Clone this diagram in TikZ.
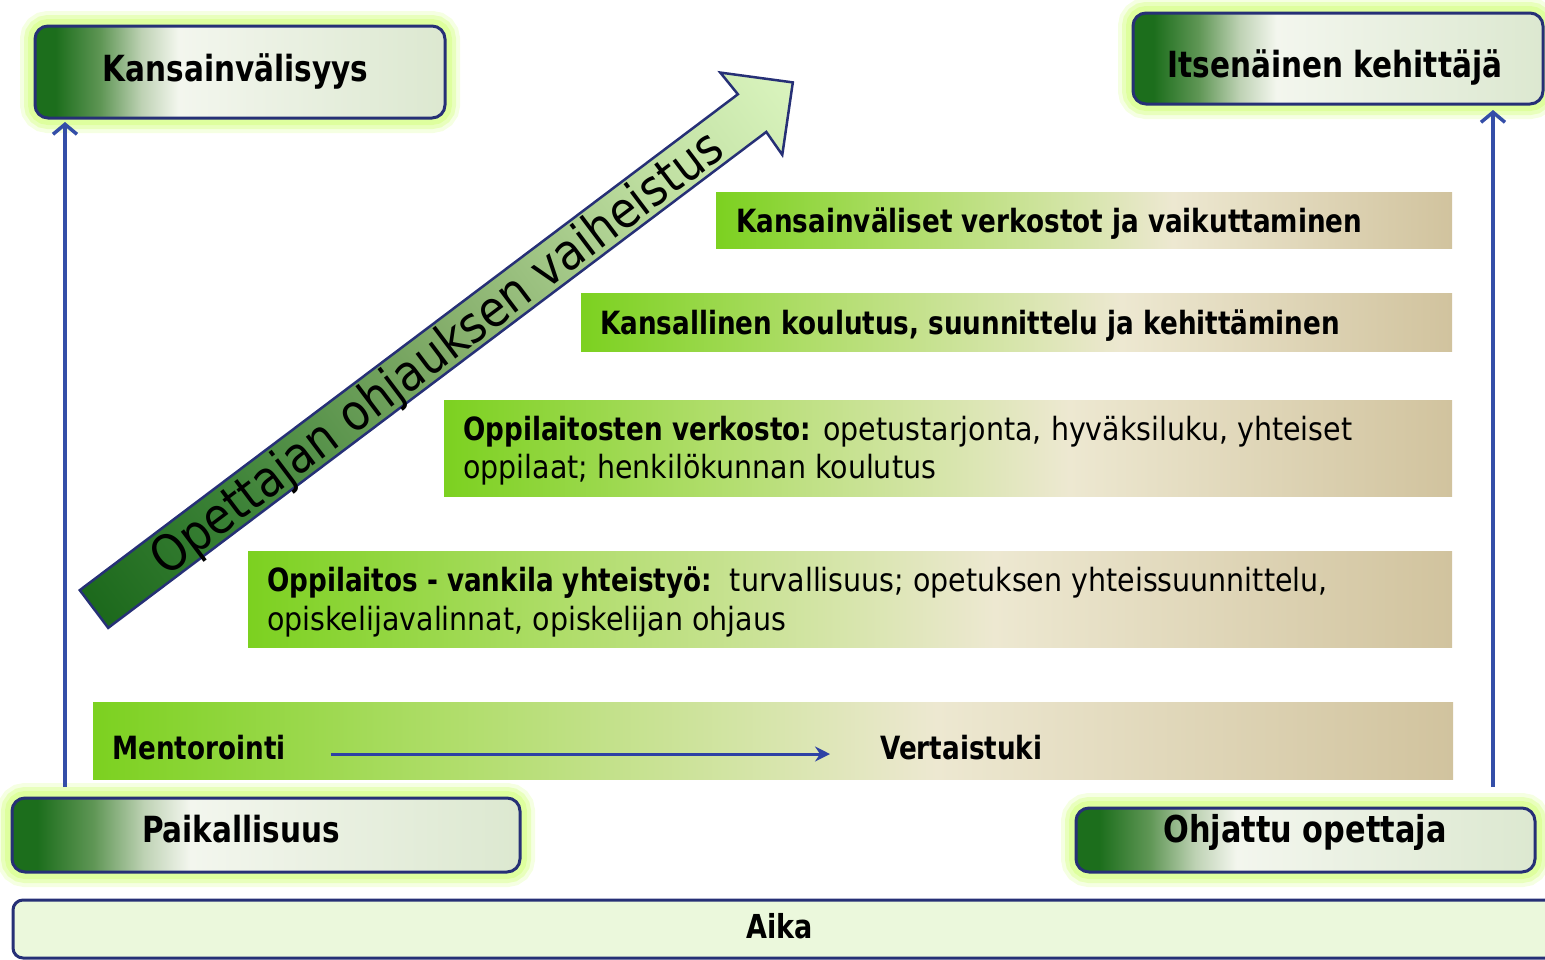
\documentclass[tikz,border=0pt]{standalone}
\usepackage{fontspec}
\setmainfont{DejaVu Sans}[UprightFeatures={FakeStretch=0.89},BoldFeatures={FakeStretch=0.82}]
\usetikzlibrary{arrows.meta,calc}
\definecolor{navy}{RGB}{38,48,118}
\definecolor{arrowblue}{RGB}{52,78,168}
\definecolor{arrowblueb}{RGB}{45,65,165}
\definecolor{glow}{RGB}{222,255,158}
\definecolor{aikafill}{RGB}{235,248,220}
\definecolor{bdk}{RGB}{28,110,28}
\definecolor{bsa}{RGB}{95,150,85}
\definecolor{bsb}{RGB}{190,210,180}
\definecolor{bwh}{RGB}{243,246,238}
\definecolor{bend}{RGB}{220,232,208}
\definecolor{ga}{RGB}{124,209,32}
\definecolor{gb}{RGB}{175,221,105}
\definecolor{gc}{RGB}{215,229,172}
\definecolor{gd}{RGB}{237,232,209}
\definecolor{ge}{RGB}{209,195,158}
\definecolor{aa}{RGB}{28,105,28}
\definecolor{ab}{RGB}{60,130,55}
\definecolor{ac}{RGB}{130,172,105}
\definecolor{ad}{RGB}{190,222,160}
\definecolor{ae}{RGB}{218,244,190}
\pgfdeclarehorizontalshading{boxshade}{100bp}{color(0bp)=(bdk); color(27.5bp)=(bdk); color(33bp)=(bsa); color(38bp)=(bsb); color(42.5bp)=(bwh); color(75bp)=(bend); color(100bp)=(bend)}
\pgfdeclarehorizontalshading{barshade}{100bp}{color(0bp)=(ga); color(25bp)=(ga); color(38bp)=(gb); color(50bp)=(gc); color(56bp)=(gd); color(75bp)=(ge); color(100bp)=(ge)}
\pgfdeclarehorizontalshading{arrowshade}{100bp}{color(0bp)=(aa); color(25bp)=(aa); color(35bp)=(ab); color(50bp)=(ac); color(65bp)=(ad); color(75bp)=(ae); color(100bp)=(ae)}
\tikzset{
  titlebox/.style={draw=navy, line width=3pt, rounded corners=13pt, shade, shading=boxshade,
    inner sep=0pt, outer sep=0pt, anchor=north west,
    preaction={draw=glow, line width=30pt, opacity=.3},
    preaction={draw=glow, line width=22pt, opacity=.55},
    preaction={draw=glow, line width=14pt}},
  aikabox/.style={draw=navy, line width=3pt, rounded corners=10pt, fill=aikafill,
    inner sep=0pt, outer sep=0pt, anchor=north west},
  bar/.style={shade, shading=barshade, draw=none, inner sep=0pt, outer sep=0pt, anchor=north west},
  bartxt/.style={font=\fontsize{32}{38}\selectfont, inner sep=0pt, anchor=base west},
  titletxt/.style={font=\fontsize{36}{40}\selectfont\bfseries, inner sep=0pt, anchor=base},
  diagtxt/.style={font=\fontsize{50}{56}\selectfont, inner sep=0pt, anchor=base},
  bigarrow/.style={draw=navy, line width=2.5pt, line join=miter, shade, shading=arrowshade},
  varrow/.style={draw=arrowblue, line width=3.5pt, -{Straight Barb[length=10pt,width=24pt]}},
  marrow/.style={draw=arrowblueb, line width=3pt, -{Stealth[length=15pt,width=15pt,inset=5pt]}}
}
\begin{document}
\begin{tikzpicture}[x=1pt,y=1pt]
\useasboundingbox (0,0) rectangle (1545,-959);
% bars
\node[bar, minimum width=736pt, minimum height=56pt] (b1) at (716,-192) {};
\node[bar, minimum width=871pt, minimum height=58pt] (b2) at (581,-293) {};
\node[bar, minimum width=1008pt, minimum height=96pt] (b3) at (444,-400) {};
\node[bar, minimum width=1204pt, minimum height=96pt] (b4) at (248,-551) {};
\node[bar, minimum width=1360pt, minimum height=77pt] (b5) at (93,-702) {};
\node[bartxt] (t1) at (736,-232) {\textbf{Kansainväliset verkostot ja vaikuttaminen}};
\node[bartxt] (t2) at (600,-334) {\textbf{Kansallinen koulutus, suunnittelu ja kehittäminen}};
\node[bartxt] (t3a) at (463,-440) {\textbf{Oppilaitosten verkosto:} opetustarjonta, hyväksiluku, yhteiset};
\node[bartxt] (t3b) at (463,-478) {oppilaat; henkilökunnan koulutus};
\node[bartxt] (t4a) at (267,-591) {\textbf{Oppilaitos - vankila yhteistyö:}\ \ turvallisuus; opetuksen yhteissuunnittelu,};
\node[bartxt] (t4b) at (267,-630) {opiskelijavalinnat, opiskelijan ohjaus};
\node[bartxt] (m) at (112,-759) {\textbf{Mentorointi}};
\node[bartxt] (v) at (880,-759) {\textbf{Vertaistuki}};
\draw[marrow] ($(m.base east)+(45,5)$) -- ($(v.base west)+(-50,5)$);
% title boxes
\node[titlebox, minimum width=410pt, minimum height=92pt] (kv) at (35,-26) {};
\node[titletxt] (kvt) at (235.5,-81) {Kansainvälisyys};
\node[titlebox, minimum width=410pt, minimum height=91pt] (ik) at (1133,-13) {};
\node[titletxt] (ikt) at (1335,-77) {Itsenäinen kehittäjä};
\node[titlebox, minimum width=508pt, minimum height=74pt] (pk) at (12,-798) {};
\node[titletxt] (pkt) at (241,-842) {Paikallisuus};
\node[titlebox, minimum width=459pt, minimum height=64pt] (oo) at (1076,-808) {};
\node[titletxt, font=\fontsize{37}{40}\selectfont\bfseries] (oot) at (1305,-842) {Ohjattu opettaja};
\node[aikabox, minimum width=1560pt, minimum height=58pt] (aika) at (13,-900) {};
\node[titletxt, font=\fontsize{33}{38}\selectfont\bfseries] (aikat) at (779.5,-938) {Aika};
% vertical arrows
\draw[varrow] ($(pk.north west)+(53,11)$) -- ($(kv.south west)+(30,-4)$);
\draw[varrow] ($(oo.north east)+(-42,21)$) -- ($(ik.south east)+(-50,-6)$);
% diagonal arrow
\begin{scope}[transform canvas={shift={(94pt,-609pt)}, rotate=37}]
  \path[bigarrow] (0,-23.6) -- (824,-23.6) -- (823,-51.5) -- (875,0) -- (823,51.5) -- (824,23.6) -- (0,23.6) -- cycle;
  \node[diagtxt] (dt) at (428,-18) {Opettajan ohjauksen vaiheistus};
\end{scope}
\end{tikzpicture}
\end{document}
